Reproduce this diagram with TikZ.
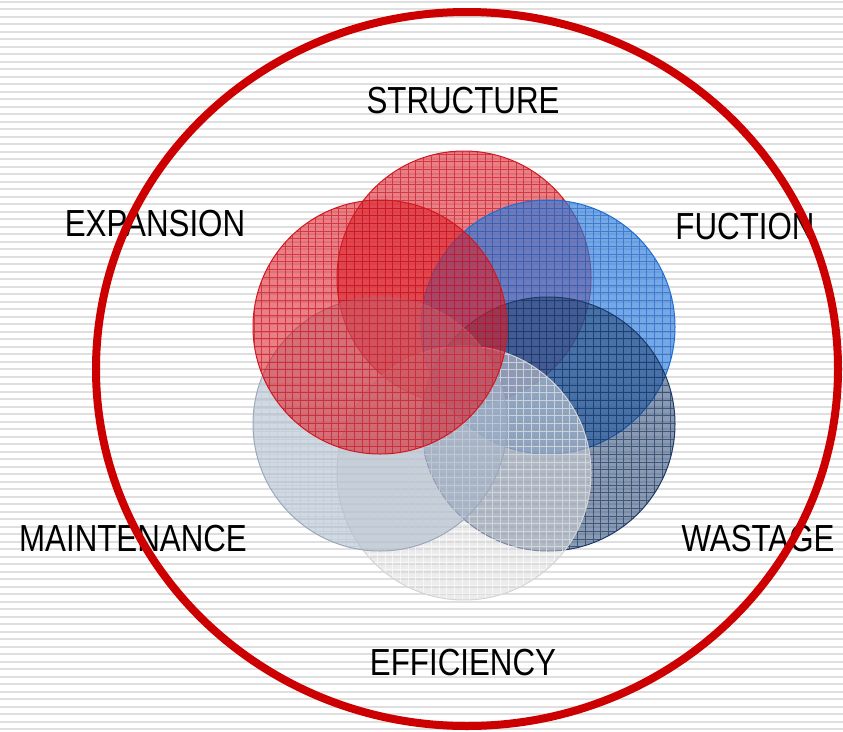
\documentclass[tikz,border=0pt]{standalone}
\usepackage{fontspec}
\usetikzlibrary{calc,shapes.geometric}
\newfontfamily\lblfont{Liberation Sans}[FakeStretch=0.83]
\definecolor{stripe}{HTML}{DFDFDF}
\definecolor{ringred}{HTML}{CC0000}
\definecolor{redfill}{HTML}{DC1C26}
\definecolor{redgrid}{HTML}{C41420}
\definecolor{rededge}{HTML}{D01820}
\definecolor{bluefill}{HTML}{2A7ADA}
\definecolor{bluegrid}{HTML}{1F60BE}
\definecolor{blueedge}{HTML}{1F6ED0}
\definecolor{navyfill}{HTML}{1F3F6F}
\definecolor{navygrid}{HTML}{18345E}
\definecolor{navyedge}{HTML}{1C3A68}
\definecolor{effill}{HTML}{D8D8D8}
\definecolor{efgrid}{HTML}{FFFFFF}
\definecolor{efedge}{HTML}{D4D4D4}
\definecolor{mfill}{HTML}{A4B4C8}
\definecolor{mgrid}{HTML}{C0CAD8}
\definecolor{medge}{HTML}{9AAABC}
\tikzset{
  lbl/.style={font=\lblfont\fontsize{37.7}{40}\selectfont, inner sep=0pt, text=black},
  ring/.style={draw=ringred, line width=8pt},
}
\newcommand{\gridcircle}[5]{%
  \begin{scope}
    \clip (#2) circle[radius=127pt];
    \fill[#3] (#2) circle[radius=127pt];
    \draw[#4, step=7.7pt, line width=0.8pt] ($(#2)+(-135,-135)$) grid ($(#2)+(135,135)$);
  \end{scope}
  \draw[#5, line width=1pt] (#2) circle[radius=127pt];
}
\begin{document}
\begin{tikzpicture}[x=1pt,y=-1pt]
\useasboundingbox (0,0) rectangle (843,731);
\fill[white] (0,0) rectangle (843,731);
% background stripes
\foreach \i in {0,...,97} {
  \draw[stripe, line width=2.2pt] (0,1.7+7.5*\i) -- (843,1.7+7.5*\i);
}
% circle centres
\coordinate (cS) at (464,278);
\coordinate (cF) at (548,327);
\coordinate (cW) at (548,424);
\coordinate (cEf) at (464,473);
\coordinate (cM) at (380,424);
\coordinate (cX) at (380,327);
\gridcircle{S}{cS}{redfill,fill opacity=0.56}{redgrid,opacity=0.65}{rededge}
\gridcircle{F}{cF}{bluefill,fill opacity=0.65}{bluegrid,opacity=0.6}{blueedge}
\gridcircle{W}{cW}{navyfill,fill opacity=0.52}{navygrid,opacity=0.65}{navyedge}
\gridcircle{Ef}{cEf}{effill,fill opacity=0.5}{efgrid,opacity=0.6}{efedge}
\gridcircle{M}{cM}{mfill,fill opacity=0.5}{mgrid,opacity=0.6}{medge}
\gridcircle{X}{cX}{redfill,fill opacity=0.56}{redgrid,opacity=0.65}{rededge}
% labels
\node[lbl] (tS) at (463,101) {STRUCTURE};
\node[lbl] (tF) at (745,227) {FUCTION};
\node[lbl] (tW) at (758,539) {WASTAGE};
\node[lbl] (tEf) at (463,663) {EFFICIENCY};
\node[lbl] (tM) at (133,539) {MAINTENANCE};
\node[lbl] (tX) at (155,224) {EXPANSION};
% outer ring
\node[ring, ellipse, minimum width=742pt, minimum height=714pt, inner sep=0pt] (ringnode) at (467,369) {};
\end{tikzpicture}
\end{document}
